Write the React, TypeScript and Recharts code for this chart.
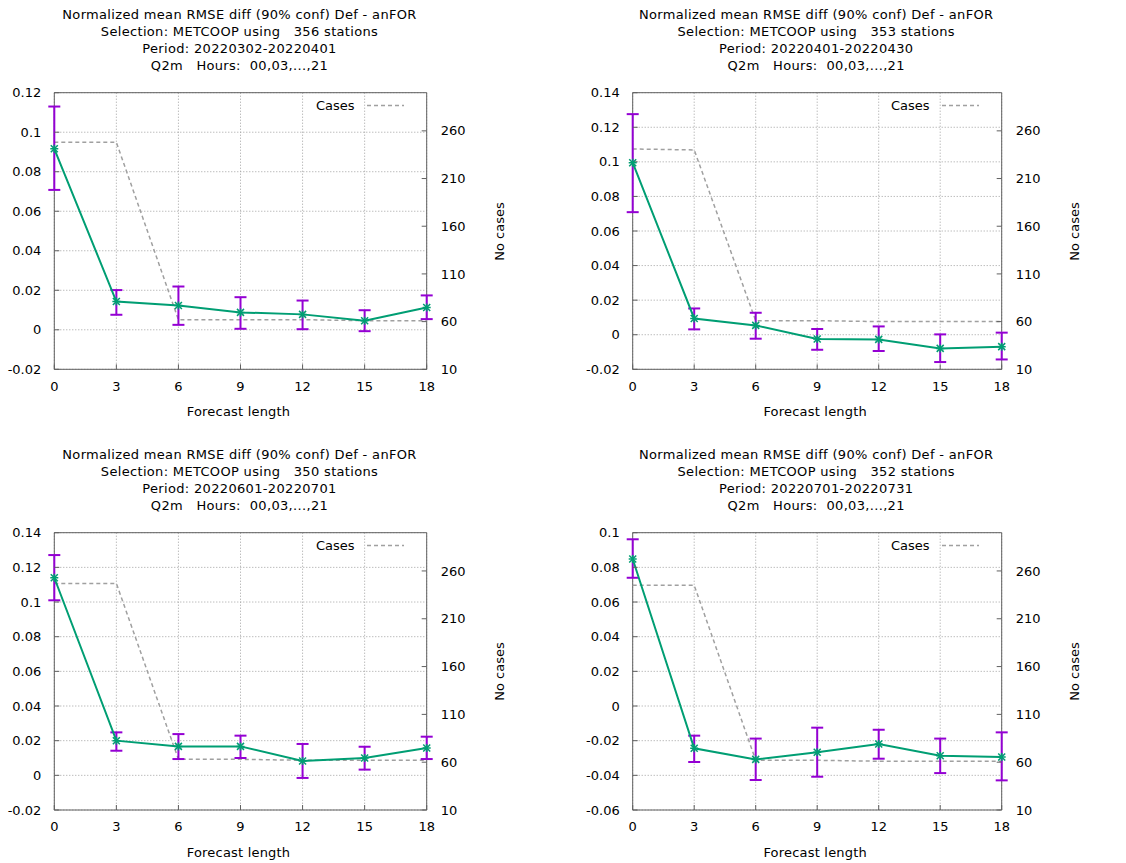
import React from 'react';
import {
  ComposedChart,
  Line,
  XAxis,
  YAxis,
  CartesianGrid,
  ErrorBar,
  ReferenceArea,
  Legend,
} from 'recharts';

const LEADS = [0, 3, 6, 9, 12, 15, 18];
const X_TICKS = [0, 3, 6, 9, 12, 15, 18];
const CASE_TICKS = [10, 60, 110, 160, 210, 260];
const CASE_DOMAIN = [10, 300];

// 2022-03
const MAR_STATIONS = 356;
const MAR_PERIOD = '20220302-20220401';
const MAR_MEAN = [0.0916, 0.0143, 0.0123, 0.0088, 0.0078, 0.0046, 0.0113];
const MAR_LO = [0.0708, 0.0076, 0.0025, 0.0005, 0.0003, -0.0007, 0.0054];
const MAR_HI = [0.113, 0.0201, 0.0219, 0.0165, 0.0148, 0.0099, 0.0174];
const MAR_CASES = [248, 248, 62, 62, 62, 61, 61];
const MAR_Y_TICKS = [-0.02, 0, 0.02, 0.04, 0.06, 0.08, 0.1, 0.12];

// 2022-04
const APR_STATIONS = 353;
const APR_PERIOD = '20220401-20220430';
const APR_MEAN = [0.0995, 0.0094, 0.0054, -0.0025, -0.0027, -0.0079, -0.0069];
const APR_LO = [0.0709, 0.0031, -0.0023, -0.0087, -0.0094, -0.0158, -0.0143];
const APR_HI = [0.1276, 0.0152, 0.0127, 0.0033, 0.0048, 0.0002, 0.0012];
const APR_CASES = [241, 240, 61, 61, 60, 60, 60];
const APR_Y_TICKS = [-0.02, 0, 0.02, 0.04, 0.06, 0.08, 0.1, 0.12, 0.14];

// 2022-06
const JUN_STATIONS = 350;
const JUN_PERIOD = '20220601-20220701';
const JUN_MEAN = [0.114, 0.02, 0.0167, 0.0167, 0.0083, 0.01, 0.0158];
const JUN_LO = [0.101, 0.0142, 0.0094, 0.01, -0.0015, 0.0033, 0.0094];
const JUN_HI = [0.1271, 0.0248, 0.0238, 0.0229, 0.0181, 0.0165, 0.0223];
const JUN_CASES = [247, 247, 63, 63, 62, 62, 62];
const JUN_Y_TICKS = [-0.02, 0, 0.02, 0.04, 0.06, 0.08, 0.1, 0.12, 0.14];

// 2022-07
const JUL_STATIONS = 352;
const JUL_PERIOD = '20220701-20220731';
const JUL_MEAN = [0.0848, -0.0244, -0.0308, -0.0267, -0.0219, -0.0287, -0.0294];
const JUL_LO = [0.074, -0.0323, -0.0427, -0.0408, -0.0304, -0.0387, -0.0429];
const JUL_HI = [0.0962, -0.0171, -0.0188, -0.0125, -0.0137, -0.0188, -0.0152];
const JUL_CASES = [245, 245, 62, 62, 61, 61, 61];
const JUL_Y_TICKS = [-0.06, -0.04, -0.02, 0, 0.02, 0.04, 0.06, 0.08, 0.1];

const FONT = '"DejaVu Sans", sans-serif';
const PURPLE = '#9400d3';
const GREEN = '#009e73';
const GRAY = '#a0a0a0';
const BORDER = '#606060';

const PANEL_W = 563;
const PANEL_H = 430;
const Y_W = 50;
const Y2_W = 60;
const X_H = 30;
const IN_TICK = -5; // gnuplot style: tick marks point into the plot

const tickStyle = { fill: '#000', fontSize: 13, fontFamily: FONT };
const tickLineStyle = { stroke: BORDER, strokeWidth: 1 };

const fmt = (v: number) => String(Number(v.toFixed(3)));

function Star(props: any) {
  const { cx, cy, index } = props;
  if (cx == null || cy == null) return <g key={index} />;
  const r = 3.5;
  return (
    <g key={index} stroke={GREEN} strokeWidth={1.5}>
      <line x1={cx - r} y1={cy - r} x2={cx + r} y2={cy + r} />
      <line x1={cx - r} y1={cy + r} x2={cx + r} y2={cy - r} />
      <line x1={cx} y1={cy - r - 0.5} x2={cx} y2={cy + r + 0.5} />
      <line x1={cx - r - 0.5} y1={cy} x2={cx + r + 0.5} y2={cy} />
    </g>
  );
}

function CasesLegend() {
  return (
    <div style={{ display: 'flex', alignItems: 'center', fontFamily: FONT, fontSize: 13, color: '#000', lineHeight: '17px' }}>
      <span>Cases</span>
      <svg width={49} height={17} style={{ display: 'block' }}>
        <line x1={12} y1={8.5} x2={49} y2={8.5} stroke={GRAY} strokeWidth={1.5} strokeDasharray="4 3" />
      </svg>
    </div>
  );
}

type PanelProps = {
  left: number;
  top: number;
  plot: { x0: number; x1: number; y0: number; y1: number };
  stations: number;
  period: string;
  mean: number[];
  lo: number[];
  hi: number[];
  cases: number[];
  yTicks: number[];
};

function Panel({ left, top, plot, stations, period, mean, lo, hi, cases, yTicks }: PanelProps) {
  const data = LEADS.map((x, i) => ({
    lead: x,
    mean: mean[i],
    err: [mean[i] - lo[i], hi[i] - mean[i]],
    cases: cases[i],
  }));
  const yDomain = [yTicks[0], yTicks[yTicks.length - 1]];
  const cx = (plot.x0 + plot.x1) / 2;
  const cy = (plot.y0 + plot.y1) / 2;
  const titles = [
    'Normalized mean RMSE diff (90% conf) Def - anFOR',
    `Selection: METCOOP using \u00a0\u00a0${stations} stations`,
    `Period: ${period}`,
    'Q2m \u00a0\u00a0Hours: \u00a000,03,...,21',
  ];

  return (
    <div style={{ position: 'absolute', left, top, width: PANEL_W, height: PANEL_H, fontFamily: FONT, color: '#000' }}>
      <div
        style={{
          position: 'absolute',
          left: cx - 1 - 250,
          top: 5.5,
          width: 500,
          textAlign: 'center',
          fontSize: 13,
          letterSpacing: 0.33,
          lineHeight: '17px',
          whiteSpace: 'pre',
        }}
      >
        {titles.map((t) => (
          <div key={t}>{t}</div>
        ))}
      </div>
      <ComposedChart
        width={PANEL_W}
        height={PANEL_H}
        data={data}
        margin={{
          top: plot.y0,
          left: plot.x0 - Y_W,
          right: PANEL_W - plot.x1 - Y2_W,
          bottom: PANEL_H - plot.y1 - X_H,
        }}
      >
        <CartesianGrid stroke={GRAY} strokeDasharray="1 2" />
        <XAxis
          dataKey="lead"
          type="number"
          domain={[0, 18]}
          ticks={X_TICKS}
          height={X_H}
          tick={tickStyle}
          tickLine={tickLineStyle}
          axisLine={false}
          tickSize={IN_TICK}
          tickMargin={17}
        />
        <XAxis
          xAxisId="top"
          orientation="top"
          type="number"
          domain={[0, 18]}
          ticks={X_TICKS}
          height={0}
          tickFormatter={() => ''}
          tickLine={tickLineStyle}
          axisLine={false}
          tickSize={IN_TICK}
        />
        <YAxis
          type="number"
          domain={yDomain}
          ticks={yTicks}
          tickFormatter={fmt}
          width={Y_W}
          tick={tickStyle}
          tickLine={tickLineStyle}
          axisLine={false}
          tickSize={IN_TICK}
          tickMargin={18}
          allowDataOverflow
        />
        <YAxis
          yAxisId="right"
          orientation="right"
          type="number"
          domain={CASE_DOMAIN}
          ticks={CASE_TICKS}
          width={Y2_W}
          tick={tickStyle}
          tickLine={tickLineStyle}
          axisLine={false}
          tickSize={IN_TICK}
          tickMargin={19}
          allowDataOverflow
        />
        <ReferenceArea
          x1={0}
          x2={18}
          y1={yDomain[0]}
          y2={yDomain[1]}
          fill="none"
          stroke={BORDER}
          strokeWidth={1}
          ifOverflow="visible"
        />
        <Line
          yAxisId="right"
          dataKey="cases"
          type="linear"
          stroke={GRAY}
          strokeWidth={1.5}
          strokeDasharray="4 3"
          dot={false}
          isAnimationActive={false}
          legendType="line"
        />
        <Line
          dataKey="mean"
          type="linear"
          stroke={GREEN}
          strokeWidth={2}
          dot={Star}
          activeDot={false}
          isAnimationActive={false}
          legendType="none"
        >
          <ErrorBar dataKey="err" width={6} stroke={PURPLE} strokeWidth={2} isAnimationActive={false} />
        </Line>
        <Legend
          layout="horizontal"
          verticalAlign="middle"
          align="center"
          content={() => <CasesLegend />}
          wrapperStyle={{ left: plot.x1 - 110.7, top: plot.y0 + 3.8, width: 100, height: 17 }}
        />
      </ComposedChart>
      <div
        style={{
          position: 'absolute',
          left: cx - 2 - 100,
          top: plot.y1 + 34,
          width: 200,
          textAlign: 'center',
          fontSize: 13,
          letterSpacing: 0.2,
          lineHeight: '17px',
        }}
      >
        Forecast length
      </div>
      <div
        style={{
          position: 'absolute',
          left: plot.x1 + 72 - 50,
          top: cy - 8.5,
          width: 100,
          textAlign: 'center',
          fontSize: 13,
          lineHeight: '17px',
          transform: 'rotate(-90deg)',
        }}
      >
        No cases
      </div>
    </div>
  );
}

export default function App() {
  const topPlot = { x0: 54.3, x1: 426.7, y0: 92.7, y1: 369.3 };
  const topPlotR = { x0: 69.7, x1: 438.7, y0: 92.7, y1: 369.3 };
  const botPlot = { x0: 54.3, x1: 426.7, y0: 92.7, y1: 370 };
  const botPlotR = { x0: 69.7, x1: 438.7, y0: 92.7, y1: 370 };
  return (
    <div style={{ position: 'absolute', left: 0, top: 0, width: 1126, height: 863, background: '#fff' }}>
      <Panel left={0} top={0} plot={topPlot} stations={MAR_STATIONS} period={MAR_PERIOD} mean={MAR_MEAN} lo={MAR_LO} hi={MAR_HI} cases={MAR_CASES} yTicks={MAR_Y_TICKS} />
      <Panel left={563} top={0} plot={topPlotR} stations={APR_STATIONS} period={APR_PERIOD} mean={APR_MEAN} lo={APR_LO} hi={APR_HI} cases={APR_CASES} yTicks={APR_Y_TICKS} />
      <Panel left={0} top={440} plot={botPlot} stations={JUN_STATIONS} period={JUN_PERIOD} mean={JUN_MEAN} lo={JUN_LO} hi={JUN_HI} cases={JUN_CASES} yTicks={JUN_Y_TICKS} />
      <Panel left={563} top={440} plot={botPlotR} stations={JUL_STATIONS} period={JUL_PERIOD} mean={JUL_MEAN} lo={JUL_LO} hi={JUL_HI} cases={JUL_CASES} yTicks={JUL_Y_TICKS} />
    </div>
  );
}
